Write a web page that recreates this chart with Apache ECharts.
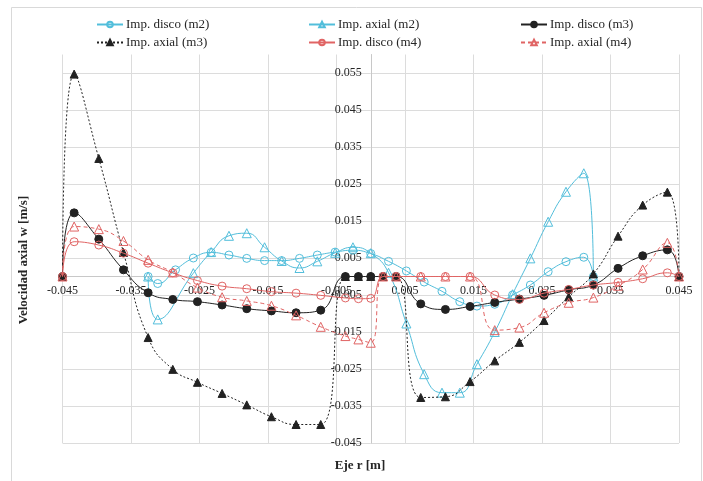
<!DOCTYPE html>
<html>
<head>
<meta charset="utf-8">
<script src="https://cdn.jsdelivr.net/npm/echarts@6/dist/echarts.min.js"></script>
<style>
html,body{margin:0;padding:0;background:#fff;}
#chart{width:703px;height:481px;}
</style>
</head>
<body>
<div id="chart"></div>
<script>
// ---- data ----
const seriesNames = ['Imp. disco (m2)', 'Imp. axial (m2)', 'Imp. disco (m3)', 'Imp. axial (m3)', 'Imp. disco (m4)', 'Imp. axial (m4)'];

// radial positions for impellers m3 / m4
const xM34 = [-0.045,-0.0433,-0.0397,-0.0361,-0.0325,-0.0289,-0.0253,-0.0217,-0.0181,-0.0145,-0.0109,-0.0073,-0.0037,-0.0018,0,
  0.0018,0.0037,0.0073,0.0109,0.0145,0.0181,0.0217,0.0253,0.0289,0.0325,0.0361,0.0397,0.0433,0.045];
// radial positions for impeller m2
const xM2 = [-0.0325,-0.0311,-0.0285,-0.0259,-0.0233,-0.0207,-0.0181,-0.0155,-0.0130,-0.0104,-0.0078,-0.0052,-0.0026,0,
  0.0026,0.0052,0.0078,0.0104,0.0130,0.0155,0.0181,0.0207,0.0233,0.0259,0.0285,0.0311,0.0325];

const discoM2 = [0,-0.0019,0.0018,0.0050,0.0065,0.0058,0.0049,0.0043,0.0043,0.0049,0.0058,0.0066,0.0071,0.0062,
  0.0041,0.0015,-0.0015,-0.0040,-0.0068,-0.0080,-0.0075,-0.0050,-0.0023,0.0013,0.0040,0.0052,0];
const axialM2 = [0,-0.0116,null,0.0009,0.0066,0.0110,0.0117,0.0079,0.0042,0.0023,0.0041,0.0064,0.0079,0.0063,
  0.0010,-0.0127,-0.0264,-0.0314,-0.0314,-0.0237,-0.0150,-0.0048,0.0049,0.0148,0.0229,0.0279,0];
const discoM3 = [0,0.0172,0.0101,0.0018,-0.0044,-0.0062,-0.0068,-0.0077,-0.0087,-0.0093,-0.0098,-0.0091,0,0,0,
  0,0,-0.0074,-0.0089,-0.0081,-0.0070,-0.0061,-0.0051,-0.0036,-0.0023,0.0022,0.0056,0.0072,0];
const axialM3 = [0,0.0547,0.0319,0.0065,-0.0165,-0.0251,-0.0286,-0.0316,-0.0347,-0.0379,-0.0400,-0.0400,0,0,0,
  0,0,-0.0327,-0.0325,-0.0284,-0.0228,-0.0178,-0.0119,-0.0055,0.0007,0.0109,0.0193,0.0228,0];
const discoM4 = [0,0.0094,0.0085,0.0063,0.0036,0.0010,-0.0011,-0.0026,-0.0033,-0.0041,-0.0045,-0.0051,-0.0058,-0.0060,-0.0059,
  0,0,0,0,0,-0.0050,-0.0062,-0.0045,-0.0035,-0.0023,-0.0016,-0.0006,0.0010,0];
const axialM4 = [0,0.0135,0.0128,0.0096,0.0045,0.0011,-0.0030,-0.0056,-0.0066,-0.0079,-0.0105,-0.0136,-0.0161,-0.0170,-0.0179,
  0,0,0,0,0,-0.0145,-0.0138,-0.0098,-0.0071,-0.0057,-0.0025,0.0019,0.0091,0];

const xTitle = 'Eje r [m]';
const yTitle = 'Velocidad axial w [m/s]';

// ---- styles ----
const FONT = '"Liberation Serif", "Times New Roman", serif';
const CYAN = '#52bedb';
const RED = '#e06464';
const BLACK = '#222222';
const GRID = '#dcdcdc';

const X_MIN = -0.045, X_MAX = 0.045, Y_MIN = -0.045, Y_MAX = 0.06;
const G_LEFT = 62.5, G_RIGHT = 24, G_TOP = 54.5, G_BOTTOM = 38;
const W = 703, H = 481;
// shift axes so that they cross at the origin (labels follow the axis)
const plotW = W - G_LEFT - G_RIGHT, plotH = H - G_TOP - G_BOTTOM;
const yAxisShift = -plotW * (0 - X_MIN) / (X_MAX - X_MIN);
const xAxisShift = -plotH * (0 - Y_MIN) / (Y_MAX - Y_MIN);

function pairs(xs, ys) { return xs.map((x, i) => [x, ys[i]]); }

function mkSeries(name, xs, ys, opts) {
  return {
    name: name,
    type: 'line',
    data: pairs(xs, ys),
    smooth: 0.5,
    connectNulls: true,
    symbol: opts.symbol,
    symbolSize: opts.size,
    showAllSymbol: true,
    lineStyle: { color: opts.color, width: 1, type: opts.lineType || 'solid' },
    itemStyle: opts.filled
      ? { color: opts.color, borderColor: opts.color, borderWidth: 1 }
      : { color: 'rgba(255,255,255,0)', borderColor: opts.color, borderWidth: 1 },
    emphasis: { disabled: true },
    z: opts.z
  };
}

const chart = echarts.init(document.getElementById('chart'), null, { renderer: 'canvas' });

function legendAt(name, left, top) {
  return {
    data: [name], left: left, top: top, padding: 0,
    itemWidth: 26, itemHeight: 7, itemGap: 0,
    textStyle: { fontFamily: FONT, fontSize: 13, color: '#262626', padding: [0, 0, 0, -2] },
    selectedMode: false
  };
}

const option = {
  animation: false,
  backgroundColor: '#ffffff',
  grid: { left: G_LEFT, right: G_RIGHT, top: G_TOP, bottom: G_BOTTOM, containLabel: false },
  legend: [
    legendAt(seriesNames[0], 96, 18),
    legendAt(seriesNames[1], 308, 18),
    legendAt(seriesNames[2], 520, 18),
    legendAt(seriesNames[3], 96, 36),
    legendAt(seriesNames[4], 308, 36),
    legendAt(seriesNames[5], 520, 36)
  ],
  xAxis: {
    type: 'value', min: X_MIN, max: X_MAX, interval: 0.01,
    position: 'bottom', offset: xAxisShift,
    axisLine: { show: true, onZero: false, lineStyle: { color: '#c8c8c8', width: 1 } },
    axisTick: { show: false },
    axisLabel: { fontFamily: FONT, fontSize: 12, color: '#262626', margin: 8,
      formatter: v => v.toFixed(3) },
    splitLine: { show: true, lineStyle: { color: GRID, width: 1 } }
  },
  yAxis: {
    type: 'value', min: Y_MIN, max: Y_MAX, interval: 0.01,
    position: 'left', offset: yAxisShift,
    axisLine: { show: true, onZero: false, lineStyle: { color: '#c8c8c8', width: 1 } },
    axisTick: { show: false },
    axisLabel: { fontFamily: FONT, fontSize: 12, color: '#262626', margin: 9,
      showMaxLabel: false, formatter: v => v.toFixed(3) },
    splitLine: { show: true, showMaxLine: false, lineStyle: { color: GRID, width: 1 } }
  },
  graphic: [
    { type: 'rect', silent: true, z: -10, shape: { x: 11.5, y: 7.5, width: 690, height: 480 },
      style: { fill: 'none', stroke: '#d9d9d9', lineWidth: 1 } },
    { type: 'text', silent: true, x: 360, y: 466,
      style: { text: xTitle, font: 'bold 13px ' + FONT, fill: '#262626', align: 'center', verticalAlign: 'middle' } },
    { type: 'text', silent: true, x: 24, y: 260, rotation: Math.PI / 2,
      style: { text: yTitle, font: 'bold 13px ' + FONT, fill: '#262626', align: 'center', verticalAlign: 'middle' } }
  ],
  series: [
    mkSeries(seriesNames[0], xM2, discoM2, { symbol: 'circle', size: 8, color: CYAN, filled: false, z: 2 }),
    mkSeries(seriesNames[1], xM2, axialM2, { symbol: 'triangle', size: 9, color: CYAN, filled: false, z: 3 }),
    mkSeries(seriesNames[2], xM34, discoM3, { symbol: 'circle', size: 8, color: BLACK, filled: true, z: 4 }),
    mkSeries(seriesNames[3], xM34, axialM3, { symbol: 'triangle', size: 8, color: BLACK, filled: true, lineType: [2, 2], z: 5 }),
    mkSeries(seriesNames[4], xM34, discoM4, { symbol: 'circle', size: 8, color: RED, filled: false, z: 6 }),
    mkSeries(seriesNames[5], xM34, axialM4, { symbol: 'triangle', size: 9, color: RED, filled: false, lineType: [4, 3], z: 7 })
  ]
};
chart.setOption(option);
</script>
</body>
</html>
